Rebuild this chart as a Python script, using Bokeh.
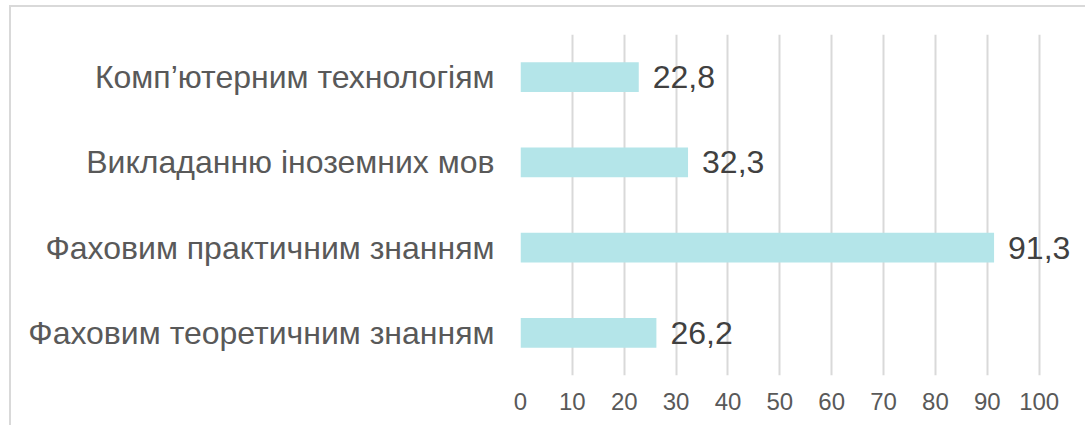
from bokeh.plotting import figure
from bokeh.models import FactorRange, Range1d, ColumnDataSource, LabelSet, FixedTicker
from bokeh.embed import file_html
from bokeh.resources import INLINE
from bokeh.core.properties import value

categories = ["Комп’ютерним технологіям", "Викладанню іноземних мов",
              "Фаховим практичним знанням", "Фаховим теоретичним знанням"]
values = [22.8, 32.3, 91.3, 26.2]
labels = ["22,8", "32,3", "91,3", "26,2"]
x_ticks = [0, 10, 20, 30, 40, 50, 60, 70, 80, 90, 100]

FONT = "Liberation Sans"

src = ColumnDataSource(dict(cat=categories, val=values, lab=labels))

p = figure(width=1076, height=420, output_backend="svg", toolbar_location=None,
           y_range=FactorRange(*categories[::-1], range_padding=0),
           x_range=Range1d(0, 107))
p.min_border_left = 509
p.min_border_right = 12
p.min_border_top = 27
p.min_border_bottom = 52
p.outline_line_color = None
p.background_fill_color = "white"
p.border_fill_color = "white"
p.styles = {"border-top": "2px solid #d9d9d9", "border-left": "2px solid #d9d9d9",
            "margin-left": "9px", "margin-top": "5px"}

p.hbar(y="cat", right="val", left=0, height=0.35, source=src,
       fill_color="#B4E5E9", line_color=None)

p.add_layout(LabelSet(x="val", y="cat", text="lab", source=src, x_offset=14,
                      text_font=value(FONT), text_font_size="32px",
                      text_color="#404040", text_baseline="middle", text_align="left"))

p.xaxis.ticker = FixedTicker(ticks=x_ticks)
p.xaxis.axis_line_color = None
p.xaxis.major_tick_line_color = None
p.xaxis.minor_tick_line_color = None
p.xaxis.major_label_text_font = FONT
p.xaxis.major_label_text_font_size = "24px"
p.xaxis.major_label_text_color = "#595959"
p.xaxis.major_label_standoff = 11

p.yaxis.axis_line_color = None
p.yaxis.major_tick_line_color = None
p.yaxis.minor_tick_line_color = None
p.yaxis.major_label_text_font = FONT
p.yaxis.major_label_text_font_size = "32px"
p.yaxis.major_label_text_color = "#595959"
p.yaxis.major_label_standoff = 20

p.ygrid.grid_line_color = None
p.xgrid.grid_line_color = "#D9D9D9"
p.xgrid.grid_line_width = 2

open("out.html", "w").write(file_html(p, INLINE))
